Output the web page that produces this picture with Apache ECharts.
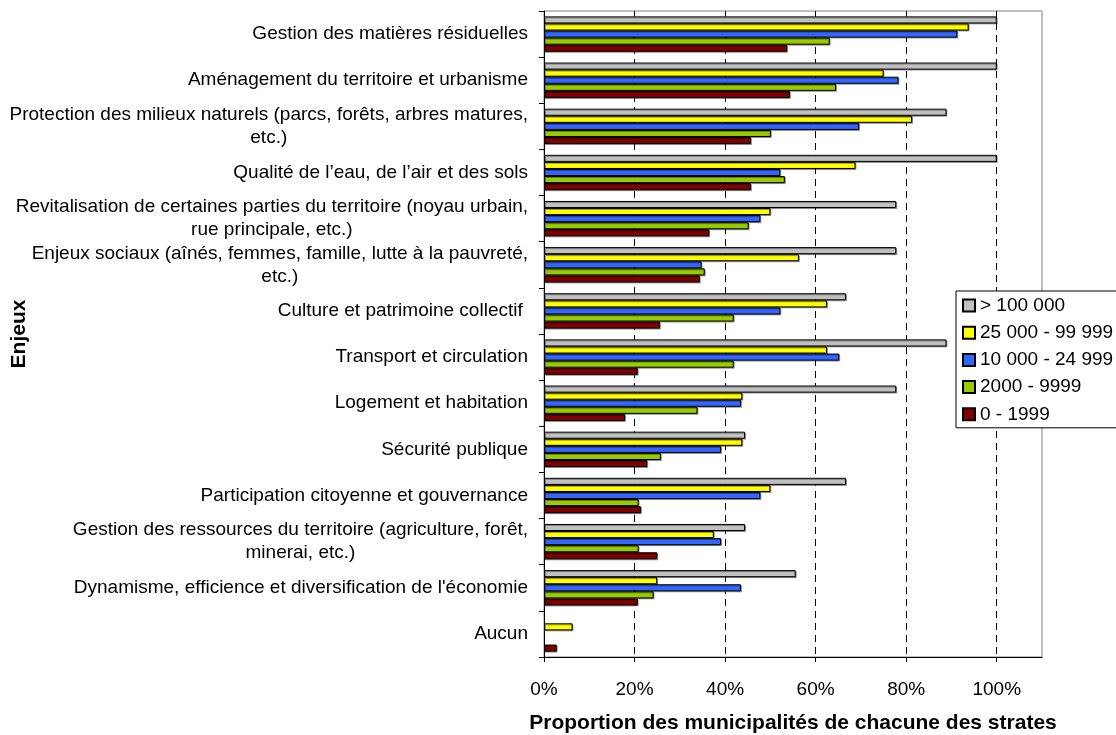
<!DOCTYPE html>
<html>
<head>
<meta charset="utf-8">
<script src="https://cdn.jsdelivr.net/npm/echarts@6/dist/echarts.min.js"></script>
<style>
html,body{margin:0;padding:0;background:#fff;}
#chart{width:1116px;height:735px;}
</style>
</head>
<body>
<div id="chart"></div>
<script>
const categories = [
  "Gestion des matières résiduelles",
  "Aménagement du territoire et urbanisme",
  "Protection des milieux naturels (parcs, forêts, arbres matures,\netc.)",
  "Qualité de l’eau, de l’air et des sols",
  "Revitalisation de certaines parties du territoire (noyau urbain,\nrue principale, etc.)",
  "Enjeux sociaux (aînés, femmes, famille, lutte à la pauvreté,\netc.)",
  "Culture et patrimoine collectif ",
  "Transport et circulation",
  "Logement et habitation",
  "Sécurité publique",
  "Participation citoyenne et gouvernance",
  "Gestion des ressources du territoire (agriculture, forêt,\nminerai, etc.)",
  "Dynamisme, efficience et diversification de l'économie",
  "Aucun"
];
const seriesNames = ["> 100 000", "25 000 - 99 999", "10 000 - 24 999", "2000 - 9999", "0 - 1999"];
const over100k   = [100, 100, 88.9, 100, 77.8, 77.8, 66.7, 88.9, 77.8, 44.4, 66.7, 44.4, 55.6, 0];
const from25k    = [93.8, 75.0, 81.3, 68.8, 50.0, 56.3, 62.5, 62.5, 43.8, 43.8, 50.0, 37.5, 25.0, 6.3];
const from10k    = [91.3, 78.3, 69.6, 52.2, 47.8, 34.8, 52.2, 65.2, 43.5, 39.1, 47.8, 39.1, 43.5, 0];
const from2000   = [63.1, 64.5, 50.1, 53.2, 45.2, 35.5, 41.9, 41.9, 33.9, 25.8, 20.9, 20.9, 24.2, 0];
const from0      = [53.7, 54.3, 45.7, 45.7, 36.5, 34.4, 25.6, 20.7, 17.9, 22.8, 21.4, 25.0, 20.7, 2.8];
const xTicks = [0, 20, 40, 60, 80, 100];
const colors = ["#C0C0C0", "#FFFF00", "#3366FF", "#99CC00", "#800000"];

const FONT = "'Liberation Sans', Arial, sans-serif";
const allData = [over100k, from25k, from10k, from2000, from0];

const chart = echarts.init(document.getElementById('chart'), null, {renderer: 'canvas'});
chart.setOption({
  animation: false,
  backgroundColor: '#fff',
  textStyle: {fontFamily: FONT, color: '#000'},
  grid: {left: 544, right: 74, top: 11, bottom: 78, show: true, borderColor: '#808080', borderWidth: 1,
    containLabel: false, outerBoundsMode: 'none'},
  legend: {
    orient: 'vertical',
    left: 956, top: 291,
    itemWidth: 12, itemHeight: 12, itemGap: 8.2,
    padding: [5, 6, 4, 6],
    backgroundColor: '#fff',
    borderColor: '#000', borderWidth: 1, borderRadius: 0,
    textStyle: {fontSize: 19, color: '#000', fontFamily: FONT},
    data: seriesNames.map(n => ({name: n, icon: 'rect'}))
  },
  xAxis: {
    type: 'value', min: 0, max: 110, interval: 20,
    axisLine: {show: true, lineStyle: {color: '#000', width: 1}},
    axisTick: {show: true, length: 5, lineStyle: {color: '#000'}, customValues: xTicks},
    axisLabel: {fontSize: 19, color: '#000', margin: 23, fontFamily: FONT,
      customValues: xTicks, formatter: v => v + '%'},
    splitLine: {show: true, lineStyle: {color: '#000', type: [7, 5], width: 1}},
    name: 'Proportion des municipalités de chacune des strates',
    nameLocation: 'middle', nameGap: 56, nameMoveOverlap: false,
    nameTextStyle: {fontSize: 21, fontWeight: 'bold', color: '#000', fontFamily: FONT}
  },
  yAxis: {
    type: 'category', data: categories, inverse: true,
    axisLine: {show: true, lineStyle: {color: '#000', width: 1}},
    axisTick: {show: true, length: 5, lineStyle: {color: '#000'}},
    axisLabel: {fontSize: 19, color: '#000', margin: 16, lineHeight: 23, fontFamily: FONT, align: 'right',
      formatter: v => v.split('\n').map(l => '{c|' + l + '}').join('\n'),
      rich: {c: {align: 'center', fontSize: 19, lineHeight: 23, color: '#000', fontFamily: FONT}}},
    splitLine: {show: false},
    name: 'Enjeux', nameLocation: 'middle', nameGap: 514, nameRotate: 90, nameMoveOverlap: false,
    nameTextStyle: {fontSize: 21, fontWeight: 'bold', color: '#000', fontFamily: FONT}
  },
  series: seriesNames.map((n, i) => ({
    name: n, type: 'bar',
    data: allData[i].map(v => v === 0
      ? {value: v, itemStyle: {borderWidth: 0, shadowColor: 'transparent'}}
      : v),
    barGap: '0%', barCategoryGap: '23.3%',
    itemStyle: {color: colors[i], borderColor: '#000', borderWidth: 1,
      shadowColor: 'rgba(0,0,0,0.35)', shadowOffsetX: 1, shadowOffsetY: 1, shadowBlur: 0}
  }))
});
</script>
</body>
</html>
